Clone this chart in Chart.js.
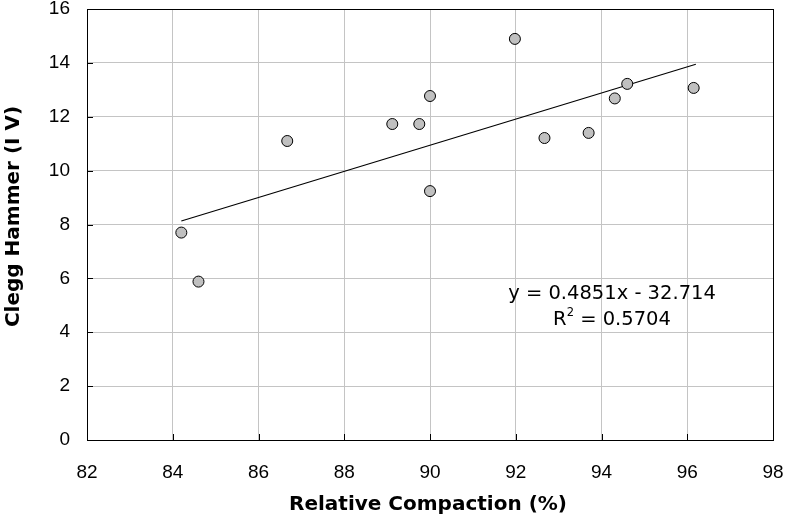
<!DOCTYPE html>
<html><head><meta charset="utf-8">
<script src="https://cdn.jsdelivr.net/npm/chart.js@4"></script>
<style>html,body{margin:0;padding:0;background:#fff}#wrap{width:785px;height:518px}</style>
</head><body><div id="wrap"><canvas id="c" width="785" height="518"></canvas></div>
<script>
const compaction = [84.2, 84.6, 86.67, 89.12, 89.75, 90.0, 90.0, 91.98, 92.67, 93.7, 94.31, 94.6, 96.15];
const clegg      = [7.70, 5.88, 11.10, 11.73, 11.73, 12.77, 9.24, 14.89, 11.21, 11.40, 12.68, 13.22, 13.07];
const trendX = [84.2, 96.2];
const trendY = [8.13, 13.95];
const xTicks = [82, 84, 86, 88, 90, 92, 94, 96, 98];
const yTicks = [0, 2, 4, 6, 8, 10, 12, 14, 16];
const xTitle = 'Relative Compaction (%)';
const yTitle = 'Clegg Hammer (I V)';
const equationLines = ['y = 0.4851x - 32.714', 'R', '2', ' = 0.5704'];

const tickFont = {family: '"Liberation Sans", Arial, sans-serif', size: 19};
const titleFontCss = 'bold 20px "DejaVu Sans", Verdana, sans-serif';
const eqFontCss = '19.5px "DejaVu Sans", Verdana, sans-serif';
const supFontCss = '11.5px "DejaVu Sans", Verdana, sans-serif';

function zeroPad(s) { s.paddingLeft = 0; s.paddingRight = 0; s.paddingTop = 0; s.paddingBottom = 0; }

const decor = {
  id: 'decor',
  afterDraw(chart) {
    const {ctx, chartArea: a, scales: {x, y}} = chart;
    ctx.save();
    ctx.strokeStyle = '#000';
    ctx.lineWidth = 1;
    ctx.strokeRect(Math.round(a.left) + 0.5, Math.round(a.top) + 0.5, Math.round(a.right - a.left), Math.round(a.bottom - a.top));
    ctx.beginPath();
    yTicks.forEach(v => { const py = Math.round(y.getPixelForValue(v)) + 0.5; ctx.moveTo(a.left, py); ctx.lineTo(a.left + 6, py); });
    xTicks.forEach(v => { const px = Math.round(x.getPixelForValue(v)) + 0.5; ctx.moveTo(px, a.bottom); ctx.lineTo(px, a.bottom - 6); });
    ctx.stroke();
    ctx.fillStyle = '#000';
    // axis titles
    ctx.font = titleFontCss;
    ctx.textAlign = 'center';
    ctx.textBaseline = 'middle';
    ctx.fillText(xTitle, (a.left + a.right) / 2 - 2, a.bottom + 65);
    ctx.save();
    ctx.translate(14, (a.top + a.bottom) / 2 - 8);
    ctx.rotate(-Math.PI / 2);
    ctx.fillText(yTitle, 0, 0);
    ctx.restore();
    // equation
    ctx.font = eqFontCss;
    const cx = 612;
    ctx.fillText(equationLines[0], cx, y.getPixelForValue(5.42));
    const yy = y.getPixelForValue(4.47);
    const wR = ctx.measureText(equationLines[1]).width;
    const wRest = ctx.measureText(equationLines[3]).width;
    ctx.font = supFontCss;
    const w2 = ctx.measureText(equationLines[2]).width;
    const total = wR + w2 + wRest;
    let sx = cx - total / 2;
    ctx.textAlign = 'left';
    ctx.font = eqFontCss;
    ctx.fillText(equationLines[1], sx, yy);
    ctx.font = supFontCss;
    ctx.fillText(equationLines[2], sx + wR, yy - 7);
    ctx.font = eqFontCss;
    ctx.fillText(equationLines[3], sx + wR + w2, yy);
    ctx.restore();
  }
};

new Chart(document.getElementById('c'), {
  type: 'scatter',
  data: {
    datasets: [
      {
        label: 'data',
        data: compaction.map((v, i) => ({x: v, y: clegg[i]})),
        backgroundColor: '#c0c0c0',
        borderColor: '#000',
        borderWidth: 1,
        pointRadius: 5.5,
        order: 1
      },
      {
        type: 'line',
        label: 'trend',
        data: trendX.map((v, i) => ({x: v, y: trendY[i]})),
        borderColor: '#000',
        borderWidth: 1.2,
        pointRadius: 0,
        fill: false,
        order: 2
      }
    ]
  },
  options: {
    responsive: false,
    animation: false,
    layout: {padding: {top: 9, right: 12, left: 0, bottom: 0}},
    plugins: {legend: {display: false}, tooltip: {enabled: false}},
    scales: {
      x: {
        type: 'linear', min: 82, max: 98,
        afterBuildTicks: s => { s.ticks = xTicks.map(v => ({value: v})); },
        afterFit: s => { s.height = 78; zeroPad(s); },
        grid: {color: '#c4c4c4', lineWidth: 1, drawTicks: false},
        border: {display: false},
        ticks: {font: tickFont, color: '#000', padding: 21, maxRotation: 0},
        title: {display: false}
      },
      y: {
        type: 'linear', min: 0, max: 16,
        afterBuildTicks: s => { s.ticks = yTicks.map(v => ({value: v})); },
        afterFit: s => { s.width = 87; zeroPad(s); },
        grid: {color: '#c4c4c4', lineWidth: 1, drawTicks: false},
        border: {display: false},
        ticks: {font: tickFont, color: '#000', padding: 17},
        title: {display: false}
      }
    }
  },
  plugins: [decor]
});
</script>
</body></html>
